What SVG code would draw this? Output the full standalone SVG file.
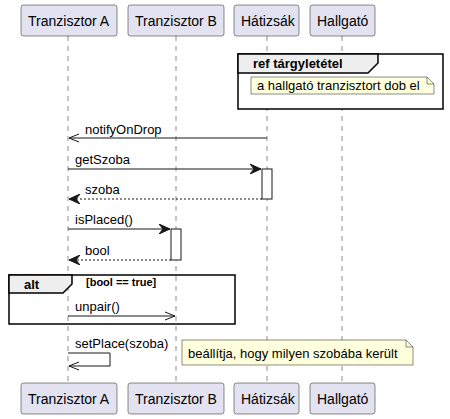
<svg xmlns="http://www.w3.org/2000/svg" width="450" height="419" viewBox="0 0 450 419">
<defs>
<style>
text{font-family:"Liberation Sans",Arial,sans-serif;fill:#000}
.p{fill:#E2E2F0;stroke:#181818;stroke-width:0.5}
.pt{font-size:14px}
.ll{stroke:#181818;stroke-width:0.5;stroke-dasharray:5,5;fill:none}
.m{stroke:#181818;stroke-width:1;fill:none}
.d{stroke:#181818;stroke-width:1;fill:none;stroke-dasharray:2,2}
.mt{font-size:13px}
.note{fill:#FEFFDD;stroke:#181818;stroke-width:0.5}
.frame{fill:none;stroke:#000;stroke-width:1.5}
.tab{fill:#EEEEEE;stroke:#000;stroke-width:1.5}
.act{fill:#fff;stroke:#181818;stroke-width:1}
</style>
<marker id="open" viewBox="0 0 12 10" refX="11" refY="5" markerWidth="12" markerHeight="10" orient="auto" markerUnits="userSpaceOnUse">
<path d="M1,1 L11,5 L1,9" fill="none" stroke="#181818" stroke-width="1"/>
</marker>
<marker id="fill" viewBox="0 0 12 10" refX="11" refY="5" markerWidth="12" markerHeight="10" orient="auto" markerUnits="userSpaceOnUse">
<path d="M0,0 L11,5 L0,10 L4,5 Z" fill="#181818" stroke="#181818" stroke-width="1"/>
</marker>
</defs>

<g id="lifelines">
<line class="ll" x1="68" y1="36" x2="68" y2="383"/>
<line class="ll" x1="176" y1="36" x2="176" y2="383"/>
<line class="ll" x1="267" y1="36" x2="267" y2="383"/>
<line class="ll" x1="342" y1="36" x2="342" y2="383"/>
</g>

<g id="p-a"><rect class="p" x="21" y="5" width="96" height="31" rx="2.5"/><text class="pt" x="28" y="25.5">Tranzisztor A</text></g>
<g id="p-b"><rect class="p" x="128" y="5" width="96" height="31" rx="2.5"/><text class="pt" x="135" y="25.5">Tranzisztor B</text></g>
<g id="p-h"><rect class="p" x="234" y="5" width="65" height="31" rx="2.5"/><text class="pt" x="241" y="25.5">Hátizsák</text></g>
<g id="p-s"><rect class="p" x="310" y="5" width="65" height="31" rx="2.5"/><text class="pt" x="317" y="25.5">Hallgató</text></g>

<g id="p-a-bottom"><rect class="p" x="21" y="383" width="96" height="31" rx="2.5"/><text class="pt" x="28" y="403.5">Tranzisztor A</text></g>
<g id="p-b-bottom"><rect class="p" x="128" y="383" width="96" height="31" rx="2.5"/><text class="pt" x="135" y="403.5">Tranzisztor B</text></g>
<g id="p-h-bottom"><rect class="p" x="234" y="383" width="65" height="31" rx="2.5"/><text class="pt" x="241" y="403.5">Hátizsák</text></g>
<g id="p-s-bottom"><rect class="p" x="310" y="383" width="65" height="31" rx="2.5"/><text class="pt" x="317" y="403.5">Hallgató</text></g>

<g id="ref">
<rect x="238" y="54" width="205" height="55" fill="#fff" stroke="#000" stroke-width="1.5"/>
<path class="tab" d="M238,54 L378,54 L378,63 L368,73 L238,73 Z"/>
<text x="253" y="68" font-size="13" font-weight="bold">ref tárgyletétel</text>
<path class="note" d="M251,77 L427,77 L434,84 L434,94 L251,94 Z"/>
<path d="M427,77 L427,84 L434,84" fill="none" stroke="#181818" stroke-width="0.5"/>
<text x="257" y="90" font-size="13">a hallgató tranzisztort dob el</text>
</g>

<g id="activations">
<rect class="act" x="262" y="169" width="10" height="30"/>
<rect class="act" x="171" y="229" width="10" height="31"/>
</g>

<g id="alt">
<rect class="frame" x="9" y="275" width="226" height="49"/>
<path class="tab" d="M9,275 L72,275 L72,284 L63,293 L9,293 Z"/>
<text x="24" y="289" font-size="13" font-weight="bold">alt</text>
<text x="86" y="286" font-size="11" font-weight="bold">[bool == true]</text>
</g>

<g id="connectors">
<line class="m" x1="267" y1="138" x2="69" y2="138" marker-end="url(#open)"/>
<text class="mt" x="85" y="134">notifyOnDrop</text>
<line class="m" x1="68" y1="169" x2="261" y2="169" marker-end="url(#fill)"/>
<text class="mt" x="75" y="164">getSzoba</text>
<line class="d" x1="262" y1="199" x2="69" y2="199" marker-end="url(#fill)"/>
<text class="mt" x="85" y="194">szoba</text>
<line class="m" x1="68" y1="229" x2="170" y2="229" marker-end="url(#fill)"/>
<text class="mt" x="75" y="224">isPlaced()</text>
<line class="d" x1="171" y1="260" x2="69" y2="260" marker-end="url(#fill)"/>
<text class="mt" x="85" y="255">bool</text>
<line class="m" x1="68" y1="316" x2="175" y2="316" marker-end="url(#open)"/>
<text class="mt" x="75" y="311">unpair()</text>
<path class="m" d="M68,353 L110,353 L110,366 L69,366" marker-end="url(#open)"/>
<text class="mt" x="75" y="348">setPlace(szoba)</text>
</g>

<g id="note-setplace">
<path class="note" d="M182,340 L406,340 L413,347 L413,365 L182,365 Z"/>
<path d="M406,340 L406,347 L413,347" fill="none" stroke="#181818" stroke-width="0.5"/>
<text x="188" y="358" font-size="13">beállítja, hogy milyen szobába került</text>
</g>
</svg>
